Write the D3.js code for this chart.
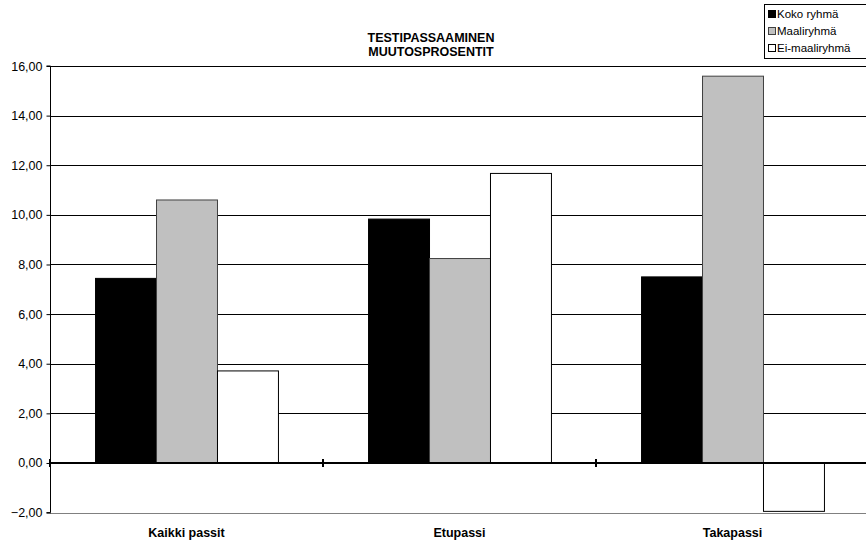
<!DOCTYPE html>
<html><head><meta charset="utf-8">
<script src="https://cdn.jsdelivr.net/npm/d3@7"></script>
<style>body{margin:0;background:#fff;overflow:hidden}svg{display:block;font-family:"Liberation Sans",Arial,sans-serif}</style>
</head><body><svg id="c" width="866" height="540"></svg>
<script>
const categories = ["Kaikki passit", "Etupassi", "Takapassi"];
const seriesNames = ["Koko ryhmä", "Maaliryhmä", "Ei-maaliryhmä"];
const kokoRyhma = [7.44, 9.83, 7.50];
const maaliryhma = [10.60, 8.24, 15.59];
const eiMaaliryhma = [3.71, 11.67, -1.95];
const yTicks = [-2, 0, 2, 4, 6, 8, 10, 12, 14, 16];
const titleLines = ["TESTIPASSAAMINEN", "MUUTOSPROSENTIT"];
const fills = ["#000000", "#c0c0c0", "#ffffff"];
const series = [kokoRyhma, maaliryhma, eiMaaliryhma];

(function () {
const svg = d3.select("#c");
const pLeft = 50, pRight = 869, pTop = 66, pBottom = 512.6;
const x0 = d3.scaleBand().domain(categories).range([pLeft, pRight]).paddingInner(0).paddingOuter(0);
const inner = x0.bandwidth() * 0.67;
const x1 = d3.scaleBand().domain(seriesNames).range([0, inner]);
const y = d3.scaleLinear().domain([-2, 16]).range([pBottom, pTop]);
const fmt = v => d3.format(".2f")(v).replace(".", ",");

// gridlines
svg.append("g").selectAll("line").data(yTicks.filter(t => t !== 0 && t !== -2)).join("line")
  .attr("x1", pLeft).attr("x2", pRight)
  .attr("y1", d => Math.round(y(d)) + 0.5).attr("y2", d => Math.round(y(d)) + 0.5)
  .attr("stroke", "#000").attr("stroke-width", 1);
svg.append("line").attr("x1", pLeft).attr("x2", pRight)
  .attr("y1", Math.round(y(-2)) + 0.5).attr("y2", Math.round(y(-2)) + 0.5)
  .attr("stroke", "#808080");

// bars
const g = svg.append("g");
categories.forEach((c, i) => {
  const gx = x0(c) + (x0.bandwidth() - inner) / 2;
  seriesNames.forEach((s, j) => {
    const v = series[j][i];
    g.append("rect")
      .attr("x", gx + x1(s) + 0.5)
      .attr("y", Math.min(y(v), y(0)))
      .attr("width", x1.bandwidth())
      .attr("height", Math.abs(y(v) - y(0)))
      .attr("fill", fills[j])
      .attr("stroke", j === 1 ? "#404040" : "#000")
      .attr("stroke-width", 1);
  });
});

// y axis
const yAxis = d3.axisLeft(y).tickValues(yTicks).tickFormat(fmt).tickSize(4).tickPadding(4);
const ya = svg.append("g").attr("transform", `translate(${pLeft + 0.5},0)`).call(yAxis);
ya.select(".domain").attr("stroke", "#000").attr("d", `M-4,${y(16)}H0V${y(-2)}H-4`);
ya.selectAll(".tick line").attr("stroke", "#000");
ya.selectAll("text").attr("font-size", 12.5).attr("fill", "#000")
  .attr("font-family", "'Liberation Sans',Arial,sans-serif");

// zero line with category ticks
svg.append("line").attr("x1", pLeft).attr("x2", pRight)
  .attr("y1", y(0)).attr("y2", y(0)).attr("stroke", "#000").attr("stroke-width", 2);
const bounds = [pLeft].concat(categories.map(c => x0(c) + x0.bandwidth()));
svg.append("g").selectAll("line").data(bounds).join("line")
  .attr("x1", d => d).attr("x2", d => d)
  .attr("y1", y(0) - 4).attr("y2", y(0) + 4)
  .attr("stroke", "#000").attr("stroke-width", 2);

// category labels
svg.append("g").selectAll("text").data(categories).join("text")
  .attr("x", d => x0(d) + x0.bandwidth() / 2)
  .attr("y", 536.5).attr("text-anchor", "middle")
  .attr("font-size", 12.5).attr("font-weight", "bold").text(d => d);

// title
svg.append("g").selectAll("text").data(titleLines).join("text")
  .attr("x", 431).attr("y", (d, i) => 41.5 + i * 14).attr("text-anchor", "middle")
  .attr("font-size", 12.5).attr("font-weight", "bold").text(d => d);

// legend
const lg = svg.append("g");
lg.append("rect").attr("x", 764.5).attr("y", 4.5).attr("width", 110).attr("height", 54)
  .attr("fill", "#fff").attr("stroke", "#000");
seriesNames.forEach((s, j) => {
  const yy = 14 + j * 17;
  lg.append("rect").attr("x", 768.5).attr("y", yy - 3.5).attr("width", 7).attr("height", 7)
    .attr("fill", fills[j]).attr("stroke", j === 1 ? "#404040" : "#000");
  lg.append("text").attr("x", 777).attr("y", yy + 4).attr("font-size", 11.5).text(s);
});
})();
</script></body></html>
